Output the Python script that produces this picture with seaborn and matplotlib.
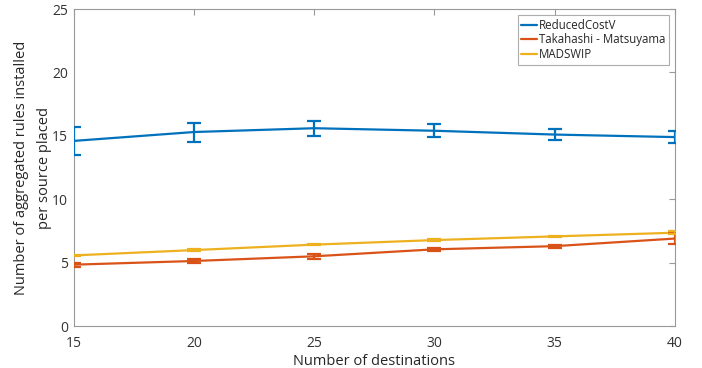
import pandas as pd
import matplotlib.pyplot as plt
import seaborn as sns

# ==========================================
# Data
# ==========================================

destinations = [15, 20, 25, 30, 35, 40]

reduced_mean = [14.6, 15.3, 15.6, 15.4, 15.1, 14.9]
reduced_err = [1.1, 0.75, 0.6, 0.5, 0.4, 0.5]

takahashi_mean = [4.84, 5.13, 5.5, 6.05, 6.3, 6.9]
takahashi_err = [0.15, 0.15, 0.18, 0.12, 0.12, 0.4]

madswip_mean = [5.57, 5.99, 6.42, 6.78, 7.07, 7.36]
madswip_err = [0.05, 0.05, 0.05, 0.05, 0.05, 0.1]

series_names = ["ReducedCostV", "Takahashi - Matsuyama", "MADSWIP"]
colors = ["#0072BD", "#D95319", "#EDB120"]

frames = []
for name, m, e in zip(series_names,
                      [reduced_mean, takahashi_mean, madswip_mean],
                      [reduced_err, takahashi_err, madswip_err]):
    frames.append(pd.DataFrame({"dest": destinations, "value": m,
                                "err": e, "algo": name}))
df = pd.concat(frames, ignore_index=True)

# ==========================================
# Plot
# ==========================================

sns.set_style("white")
plt.rcParams["font.family"] = ["Open Sans", "DejaVu Sans"]

fig, ax = plt.subplots(figsize=(7.02, 3.68), dpi=100)
fig.subplots_adjust(left=0.105, right=0.9615, top=0.9755, bottom=0.114)

sns.lineplot(data=df, x="dest", y="value", hue="algo",
             palette=colors, hue_order=series_names,
             linewidth=1.6, ax=ax)

for name, c in zip(series_names, colors):
    sub = df[df["algo"] == name]
    ax.errorbar(sub["dest"], sub["value"], yerr=sub["err"], fmt="none",
                ecolor=c, elinewidth=1.6, capsize=4.7, capthick=1.6,
                zorder=3)

ax.set_xlim(15, 40)
ax.set_ylim(0, 25)
ax.set_xticks(range(15, 41, 5))
ax.set_yticks(range(0, 26, 5))

ax.set_xlabel("Number of destinations", fontsize=10.5, color="#262626",
              labelpad=2)
ax.set_ylabel("Number of aggregated rules installed\nper source placed",
              fontsize=10.5, color="#262626", linespacing=1.7, labelpad=0)

for s in ax.spines.values():
    s.set_color("#999999")
    s.set_linewidth(0.8)
ax.tick_params(direction="in", length=4, color="#999999",
               labelsize=10, labelcolor="#333333", top=True, right=True,
               labeltop=False, labelright=False)
ax.tick_params(axis="x", pad=7)
ax.tick_params(axis="y", pad=4)

leg = ax.legend(loc="upper right", bbox_to_anchor=(0.994, 0.988),
                fontsize=8.3, handlelength=1.4, handletextpad=0.15,
                borderpad=0.3, labelspacing=0.15, borderaxespad=0.2,
                fancybox=False, frameon=True)
leg.get_frame().set_edgecolor("#999999")
leg.get_frame().set_linewidth(0.8)

plt.savefig("out.png", dpi=100)
